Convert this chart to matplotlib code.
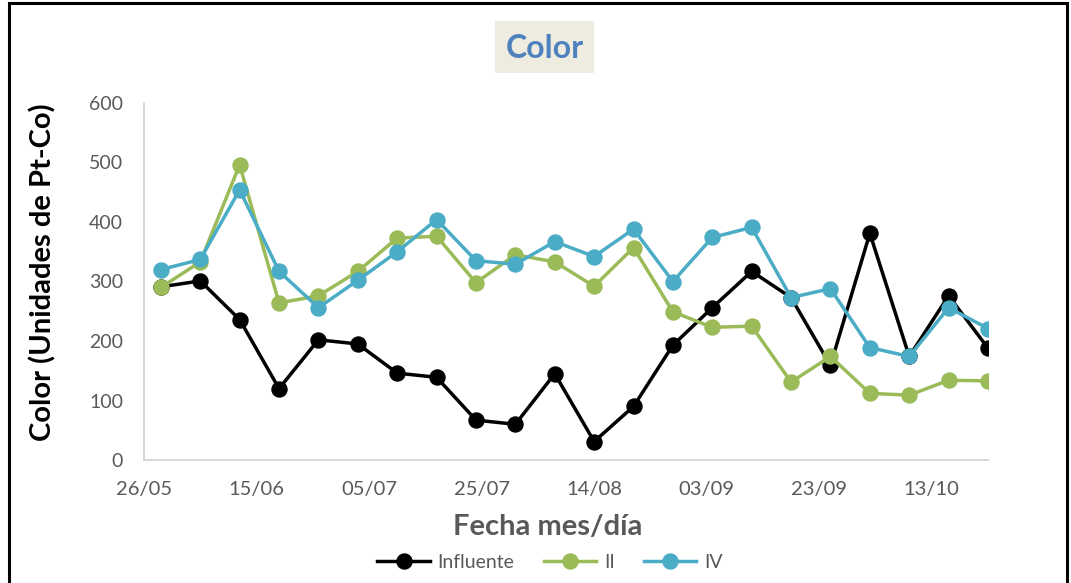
import pandas as pd
import matplotlib.pyplot as plt
import matplotlib.dates as mdates
from matplotlib.patches import Rectangle

plt.rcParams['font.family'] = ['Lato', 'DejaVu Sans']

# weekly sampling dates (day/month)
fechas = ['29/05', '05/06', '12/06', '19/06', '26/06', '03/07', '10/07', '17/07',
          '24/07', '31/07', '07/08', '14/08', '21/08', '28/08', '04/09', '11/09',
          '18/09', '25/09', '02/10', '09/10', '16/10', '23/10']
influente = [291, 301, 236, 120, 202, 195, 146, 139, 67, 60, 145, 31, 90, 193,
             256, 317, 273, 159, 381, 174, 276, 188]
serie_ii = [290, 333, 496, 264, 276, 317, 373, 376, 298, 345, 333, 292, 357, 249,
            223, 225, 131, 174, 112, 109, 134, 133]
serie_iv = [320, 337, 454, 317, 256, 302, 350, 404, 335, 329, 367, 342, 388, 300,
            374, 391, 273, 288, 189, 174, 256, 221]
x_ticks = ['26/05', '15/06', '05/07', '25/07', '14/08', '03/09', '23/09', '13/10']
x_fin = '23/10'

def to_date(s):
    return pd.to_datetime(s + '/2017', format='%d/%m/%Y')

x = [to_date(f) for f in fechas]

W, H = 1071, 583
fig = plt.figure(figsize=(W / 100, H / 100), dpi=100)
ax = fig.add_axes([144 / W, 1 - 460 / H, 844 / W, 357 / H])

gris = '#595959'
series = [('Influente', influente, 'black'),
          ('II', serie_ii, '#9BBB59'),
          ('IV', serie_iv, '#4BACC6')]
for nombre, vals, col in series:
    ax.plot(x, vals, color=col, lw=2.5, marker='o', markersize=10.8,
            markeredgecolor=col, label=nombre)

ax.set_xlim(to_date(x_ticks[0]), to_date(x_fin))
ax.set_ylim(0, 600)
ax.set_yticks(range(0, 601, 100))
ax.set_xticks([to_date(t) for t in x_ticks])
ax.xaxis.set_major_formatter(mdates.DateFormatter('%d/%m'))
ax.tick_params(axis='x', length=0, labelsize=14.5, labelcolor=gris, pad=15)
ax.tick_params(axis='y', length=0, labelsize=14, labelcolor=gris, pad=15)

for s in ['top', 'right']:
    ax.spines[s].set_visible(False)
for s in ['left', 'bottom']:
    ax.spines[s].set_color('#D0D0D0')
    ax.spines[s].set_linewidth(1.2)

# axis titles
fig.text(43 / W, 1 - 272 / H, 'Color (Unidades de Pt-Co)', rotation=90,
         ha='center', va='center', fontsize=21, fontweight='bold', color='black')
fig.text(548 / W, 1 - 527 / H, 'Fecha mes/día', ha='center', va='center',
         fontsize=21, fontweight='bold', color=gris)

# chart title on a tan box
fig.patches.append(Rectangle((495 / W, 1 - 73 / H), 99 / W, 52 / H,
                             transform=fig.transFigure, fc='#EEECE1', ec='none'))
fig.text(545 / W, 1 - 49 / H, 'Color', ha='center', va='center', fontsize=23,
         fontweight='bold', color='#4F81BD')

leg = fig.legend(loc='center', bbox_to_anchor=(550 / W, 1 - 562 / H), ncol=3,
                 frameon=False, fontsize=14, handlelength=2.7, columnspacing=1.5,
                 handletextpad=0.4, borderaxespad=0, borderpad=0)
for t in leg.get_texts():
    t.set_color(gris)

fig.patches.append(Rectangle((9 / W, -0.05), 1058 / W, 1.05 - 3 / H,
                             transform=fig.transFigure, fill=False,
                             ec='black', lw=2.2))

fig.savefig('out.png', dpi=100)
